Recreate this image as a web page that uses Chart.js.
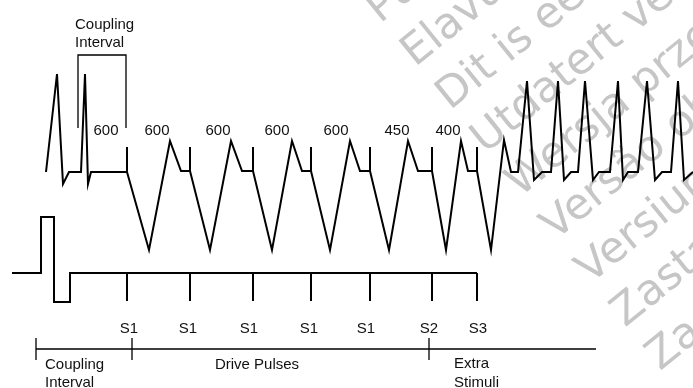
<!DOCTYPE html>
<html>
<head>
<meta charset="utf-8">
<script src="https://cdn.jsdelivr.net/npm/chart.js@4/dist/chart.umd.min.js"></script>
<style>
  html, body { margin: 0; padding: 0; background: #fff; }
  canvas { display: block; }
</style>
</head>
<body>
<canvas id="chart" width="693" height="388"></canvas>
<script>
// surface ECG: two intrinsic beats, paced drive train, extra stimuli, then the induced run
const ecgX = [46, 57, 63, 69, 81, 85, 88, 91, 127,
  149, 170, 181, 190,
  210, 231, 242, 253,
  272, 292, 302, 311,
  330, 350, 360, 370,
  389, 408, 418, 432,
  446, 461, 468, 477,
  491, 504, 511, 518,
  527, 534, 542, 551,
  558, 564, 571, 578,
  585, 593, 599, 610,
  618, 623, 628, 638,
  647, 655, 662, 671,
  678, 684, 693];
const ecgY = [172, 74, 184, 172, 172, 74, 184, 172, 172,
  250, 141, 171, 171,
  250, 141, 171, 171,
  250, 141, 171, 171,
  250, 141, 171, 171,
  250, 141, 171, 171,
  250, 141, 171, 171,
  250, 140, 172, 172,
  81, 180, 172, 172,
  81, 180, 172, 172,
  81, 180, 172, 172,
  81, 180, 172, 172,
  81, 180, 172, 172,
  81, 180, 172];

// stimulus times (S1 x5, S2, S3)
const paceX = [127, 190, 253, 311, 370, 432, 477];
const paceLabels = ['S1', 'S1', 'S1', 'S1', 'S1', 'S2', 'S3'];
const paceLabelX = [129, 188, 249, 309, 366, 429, 478];

// intervals in ms written above the trace
const intervalLabels = ['600', '600', '600', '600', '600', '450', '400'];
const intervalLabelX = [106, 157, 218, 277, 336, 397, 448];

// stimulator channel
const stimX = [12, 41, 41, 54, 54, 70, 70, 477];
const stimY = [273, 273, 217, 217, 302, 302, 273, 273];

// coupling bracket on top and the phase timeline at the bottom
const bracketX = [78, 78, 126, 126];
const bracketY = [128, 55, 55, 128];
const phaseX = [36, 132, 429];
const phaseEnd = 596;

const watermark = ['Pu', 'Elavult változat', 'Dit is een verouderde versie', 'Utdatert versjon',
  'Wersja przedawniona', 'Versão obsoleta', 'Versiune depășită', 'Zastaraná verzia', 'Zastarela različica'];

const pts = (xs, ys) => xs.map((x, i) => ({ x, y: ys[i] }));
const ticks = (xs, y0, y1) => xs.flatMap((x) => [{ x, y: y0 }, { x, y: y1 }, { x, y: null }]);

function line(data, width) {
  return {
    data,
    showLine: true,
    spanGaps: false,
    borderColor: '#000',
    borderWidth: width,
    pointRadius: 0,
    borderJoinStyle: 'miter',
    tension: 0,
  };
}

const textPlugin = {
  id: 'diagramText',
  beforeDatasetsDraw(chart) {
    const { ctx } = chart;
    ctx.save();
    ctx.fillStyle = '#c6c6c6';
    ctx.font = '43px "DejaVu Sans"';
    ctx.textAlign = 'left';
    ctx.textBaseline = 'alphabetic';
    watermark.forEach((txt, i) => {
      ctx.save();
      ctx.translate(380 + i * 35, 24 + i * 43.4);
      ctx.rotate(-39 * Math.PI / 180);
      ctx.fillText(txt, 0, 0);
      ctx.restore();
    });
    ctx.restore();
  },
  afterDatasetsDraw(chart) {
    const { ctx } = chart;
    const sx = chart.scales.x;
    const sy = chart.scales.y;
    const put = (txt, x, y, align) => {
      ctx.textAlign = align;
      ctx.fillText(txt, sx.getPixelForValue(x), sy.getPixelForValue(y));
    };
    ctx.save();
    ctx.fillStyle = '#111';
    ctx.font = '15px "Liberation Sans", Arial, sans-serif';
    ctx.textBaseline = 'alphabetic';
    put('Coupling', 75, 28.5, 'left');
    put('Interval', 75, 47, 'left');
    intervalLabels.forEach((t, i) => put(t, intervalLabelX[i], 134.5, 'center'));
    paceLabels.forEach((t, i) => put(t, paceLabelX[i], 332.5, 'center'));
    put('Coupling', 45, 368.5, 'left');
    put('Interval', 45, 386.5, 'left');
    put('Drive Pulses', 257, 368.5, 'center');
    put('Extra', 454, 368, 'left');
    put('Stimuli', 454, 386.5, 'left');
    ctx.restore();
  },
};

new Chart(document.getElementById('chart'), {
  type: 'scatter',
  data: {
    datasets: [
      line(pts(ecgX, ecgY), 2),
      line(ticks(paceX, 147, 171), 2),
      line(pts(stimX, stimY), 2),
      line(ticks(paceX, 273, 301), 2),
      line(pts(bracketX, bracketY), 1.3),
      line([{ x: phaseX[0], y: 349 }, { x: phaseEnd, y: 349 }], 1.3),
      line(ticks(phaseX, 338, 360), 1.3),
    ],
  },
  options: {
    responsive: false,
    animation: false,
    events: [],
    layout: { padding: 0 },
    plugins: { legend: { display: false }, tooltip: { enabled: false } },
    scales: {
      x: { type: 'linear', min: 0, max: 693, display: false },
      y: { type: 'linear', min: 0, max: 388, reverse: true, display: false },
    },
  },
  plugins: [textPlugin],
});
</script>
</body>
</html>
